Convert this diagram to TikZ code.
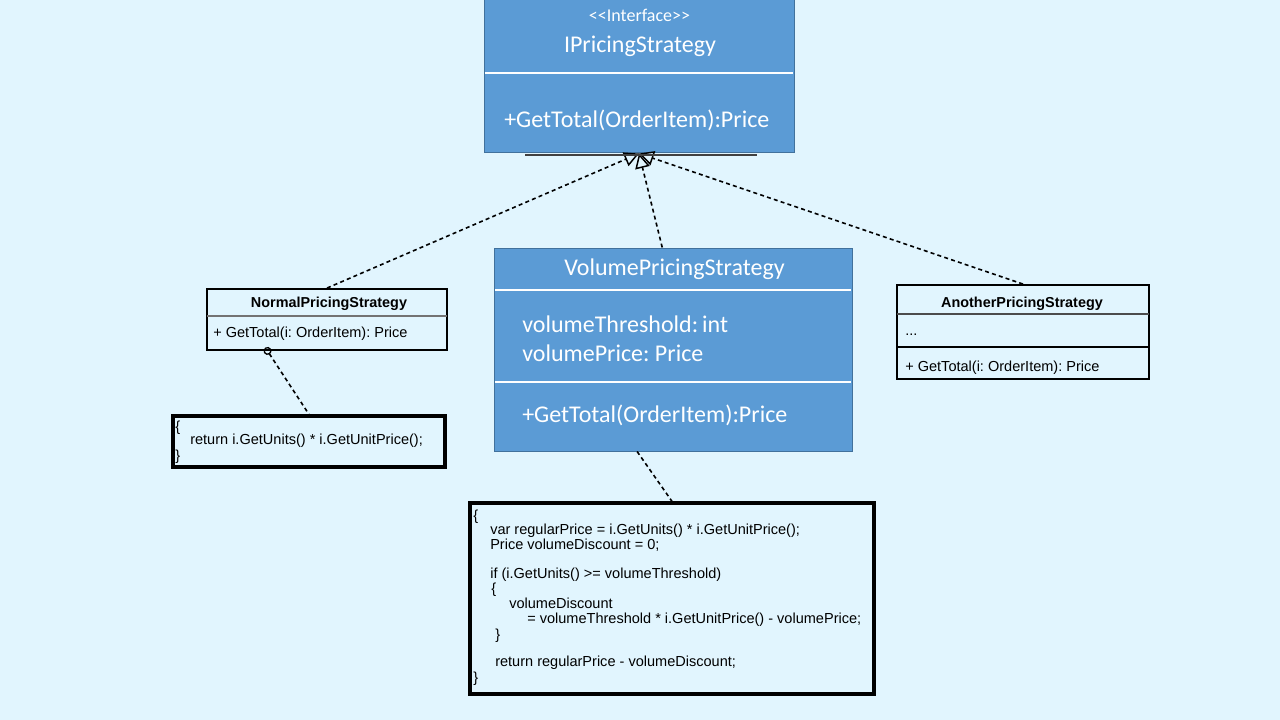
\documentclass[tikz,border=0pt]{standalone}
\usepackage{fontspec}
\setmainfont{Liberation Sans}
\newfontfamily\calfont{Carlito}
\usetikzlibrary{arrows.meta,fit,calc}
\definecolor{bg}{HTML}{E1F5FE}
\definecolor{boxblue}{HTML}{5B9BD5}
\definecolor{boxedge}{HTML}{41719C}
\frenchspacing
\begin{document}
\begin{tikzpicture}[x=0.75pt,y=-0.75pt,
  bluebox/.style={draw=boxedge, fill=boxblue, line width=0.75pt, inner sep=0pt},
  umlbox/.style={draw=black, line width=1.4pt, inner sep=0pt},
  codebox/.style={draw=black, line width=2.4pt, inner sep=0pt},
  bigtxt/.style={text=white, font=\calfont\fontsize{18}{21}\selectfont, inner sep=0pt},
  stereo/.style={text=white, font=\calfont\fontsize{13.5}{16}\selectfont, inner sep=0pt},
  armtxt/.style={font=\fontsize{10.9}{13}\selectfont, inner sep=0pt},
  armbold/.style={font=\bfseries\fontsize{10.8}{13}\selectfont, inner sep=0pt},
  dep/.style={dash pattern=on 3pt off 2.4pt, line width=1.2pt},
  realize/.style={dep, -{Triangle[open,length=11pt,width=11pt,line width=1.1pt]}},
  anchorlink/.style={dep, {Circle[open,length=6pt,line width=1pt]}-, shorten <=-3pt},
  divwhite/.style={draw=white, line width=2pt},
]
\fill[bg] (0,0) rectangle (1280,720);
\useasboundingbox (0,0) rectangle (1280,720);

% ---------- small UML boxes ----------
\node[umlbox, fit={(207,289)(447,350)}] (normal) {};
\draw[black!55, line width=0.8pt] (207,316) -- (447,316);
\node[armbold, anchor=base] (normalT) at (329,307) {NormalPricingStrategy};
\node[armtxt, anchor=base west] (normalM) at (213,337) {+ GetTotal(i: OrderItem): Price};

\node[umlbox, fit={(897,285)(1149,379)}] (another) {};
\draw[black!70, line width=0.8pt] (897,314) -- (1149,314);
\draw[black, line width=1.4pt] (897,347) -- (1149,347);
\node[armbold, anchor=base] (anotherT) at (1022,307) {AnotherPricingStrategy};
\node[armtxt, anchor=base west] (anotherA) at (905,335) {...};
\node[armtxt, anchor=base west] (anotherM) at (905,371) {+ GetTotal(i: OrderItem): Price};

% ---------- code notes ----------
\node[codebox, fit={(173,416)(445,467)}] (code1) {};
\node[armtxt, anchor=base west] (c1a) at (175,431) {\{};
\node[armtxt, anchor=base west] (c1b) at (190,444) {return i.GetUnits() * i.GetUnitPrice();};
\node[armtxt, anchor=base west] (c1c) at (175,460) {\}};

\node[codebox, fit={(470,503)(874,694)}] (code2) {};
\node[armtxt, anchor=base west] (l1) at (473,520) {\{};
\node[armtxt, anchor=base west] (l2) at (490,534) {var regularPrice = i.GetUnits() * i.GetUnitPrice();};
\node[armtxt, anchor=base west] (l3) at (490,549) {Price volumeDiscount = 0;};
\node[armtxt, anchor=base west] (l4) at (490,578) {if (i.GetUnits() >= volumeThreshold)};
\node[armtxt, anchor=base west] (l5) at (491,593) {\{};
\node[armtxt, anchor=base west] (l6) at (509,608) {volumeDiscount};
\node[armtxt, anchor=base west] (l7) at (527,623) {= volumeThreshold * i.GetUnitPrice() - volumePrice;};
\node[armtxt, anchor=base west] (l8) at (495,639) {\}};
\node[armtxt, anchor=base west] (l9) at (495,666) {return regularPrice - volumeDiscount;};
\node[armtxt, anchor=base west] (l10) at (473,682) {\}};

% ---------- blue boxes ----------
\node[bluebox, fit={(484,0)(794,153)}] (iface) {};
\node[bluebox, fit={(494,248)(852,451)}] (volume) {};

% ---------- connectors ----------
\draw[realize] (normal.north) -- (iface.south);
\draw[realize] ($(volume.north west)!0.47!(volume.north east)$) -- (iface.south);
\draw[realize] (another.north) -- (iface.south);
\draw[anchorlink] ($(normal.south west)!0.254!(normal.south east)$) -- (code1.north);
\draw[dep] ($(volume.south west)!0.40!(volume.south east)$) -- (code2.north);

% ---------- interface ----------
\draw[divwhite] (484.8,73) -- (793.2,73);
\draw[black!75, line width=1.3pt] (525,155) -- (757,155);
\node[stereo, anchor=base] (ster) at (639.5,22) {<<Interface>>};
\node[bigtxt, anchor=base] (ifaceT) at (640,53) {IPricingStrategy};
\node[bigtxt, anchor=base west] (ifaceM) at (504,128) {+GetTotal(OrderItem):Price};

% ---------- volume ----------
\draw[divwhite] (494.8,290) -- (851.2,290);
\draw[divwhite] (494.8,382) -- (851.2,382);
\node[bigtxt, anchor=base] (volT) at (674.5,275) {VolumePricingStrategy};
\node[bigtxt, anchor=base west] (volA1) at (522,332) {volumeThreshold:\,int};
\node[bigtxt, anchor=base west] (volA2) at (522,361) {volumePrice: Price};
\node[bigtxt, anchor=base west] (volM) at (522,422) {+GetTotal(OrderItem):Price};
\end{tikzpicture}
\end{document}
